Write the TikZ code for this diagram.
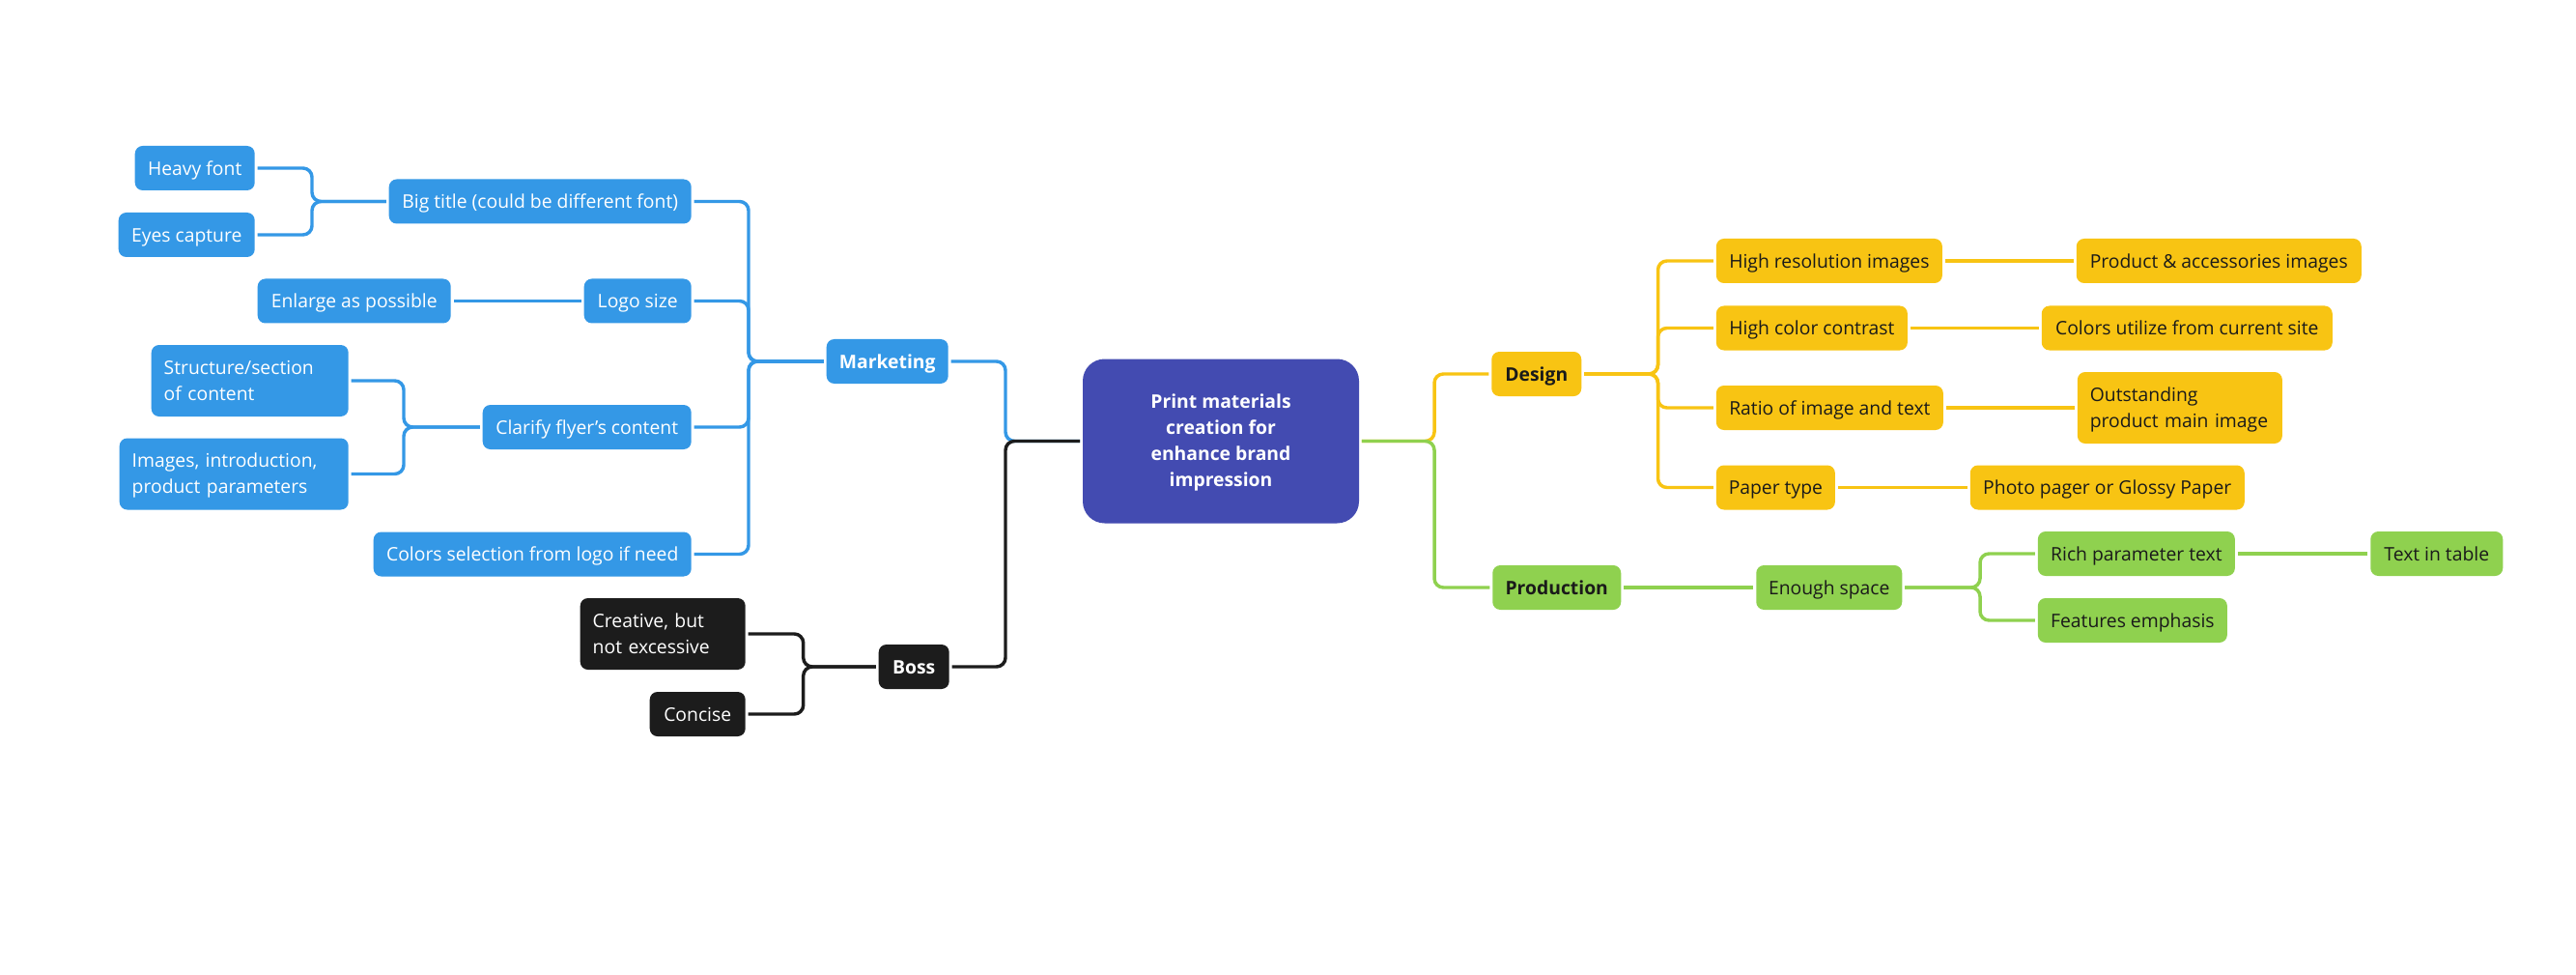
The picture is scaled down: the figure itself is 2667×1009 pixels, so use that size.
\documentclass[tikz,border=0pt]{standalone}
\usepackage{fontspec}
\setmainfont{Open Sans}
\definecolor{mblue}{HTML}{3498E6}
\definecolor{mind}{HTML}{434BB1}
\definecolor{mblack}{HTML}{1C1C1C}
\definecolor{myel}{HTML}{F8C413}
\definecolor{mgreen}{HTML}{8FD14F}
\definecolor{mtext}{HTML}{1A1A1A}
\newcommand{\firstln}{\rule{0pt}{13.85pt}}
\newcommand{\lastln}{\rule[-3.5pt]{0pt}{0pt}}
\begin{document}
\begin{tikzpicture}[x=0.75pt,y=-0.75pt,
  box/.style={rounded corners=6pt, inner xsep=0pt, inner ysep=0pt, minimum height=34.5pt,
    text height=12.5pt, text depth=1.5pt, font=\fontsize{14.5}{20.25}\selectfont},
  mbox/.style={rounded corners=6pt, inner xsep=9.75pt, inner ysep=0pt, minimum height=55.5pt,
    align=left, font=\fontsize{14.5}{20.25}\selectfont},
  bl/.style={fill=mblue,text=white},
  bk/.style={fill=mblack,text=white},
  yl/.style={fill=myel,text=mtext},
  gr/.style={fill=mgreen,text=mtext},
  con/.style={line width=2.6pt, rounded corners=7pt, shorten <=2pt, shorten >=2pt},
]
\fill[white] (0,0) rectangle (2667,1009);
\useasboundingbox (0,0) rectangle (2667,1009);

% center
\node[rounded corners=17pt, fill=mind, text=white, minimum width=214.5pt, minimum height=127.5pt,
  inner sep=0pt, align=center, font=\fontsize{14.5}{20.25}\selectfont\bfseries] (center) at (1264,456.5)
  {\firstln Print materials\\creation for\\enhance brand\\impression\lastln};

% marketing (blue)
\node[box,bl,minimum width=94.5pt,font=\fontsize{14.5}{20.25}\selectfont\bfseries,anchor=east] (marketing) at (982,374) {Marketing};
\node[box,bl,minimum width=234.75pt,anchor=east] (big) at (716,208.5) {Big title (could be different font)};
\node[box,bl,minimum width=83.25pt,anchor=east] (logo) at (716,311.5) {Logo size};
\node[box,bl,minimum width=162pt,anchor=east] (clarify) at (716,442) {Clarify flyer's content};
\node[box,bl,minimum width=246.75pt,anchor=east] (colors) at (716,573.5) {Colors selection from logo if need};
\node[box,bl,minimum width=93pt,anchor=east] (heavy) at (264,174) {Heavy font};
\node[box,bl,minimum width=105.75pt,anchor=east] (eyes) at (264,243) {Eyes capture};
\node[box,bl,minimum width=150pt,anchor=east] (enlarge) at (467,311.5) {Enlarge as possible};
\node[mbox,bl,text width=133.5pt,anchor=east] (struct) at (361,394) {\firstln Structure/section\\of content\lastln};
\node[mbox,bl,text width=158.25pt,anchor=east] (images) at (361,490.5) {\firstln Images, introduction,\\product parameters\lastln};

% boss (black)
\node[box,bk,minimum width=54.75pt,font=\fontsize{14.5}{20.25}\selectfont\bfseries,anchor=east] (boss) at (983,690) {Boss};
\node[mbox,bk,text width=108.75pt,anchor=east] (creative) at (772,656) {\firstln Creative, but\\not excessive\lastln};
\node[box,bk,minimum width=74.25pt,anchor=east] (concise) at (772,739) {Concise};

% design (yellow)
\node[box,yl,minimum width=69.75pt,font=\fontsize{14.5}{20.25}\selectfont\bfseries,anchor=west] (design) at (1544,387) {Design};
\node[box,yl,minimum width=175.5pt,anchor=west] (hires) at (1776.6,270) {High resolution images};
\node[box,yl,minimum width=148.5pt,anchor=west] (hicol) at (1776.6,339.5) {High color contrast};
\node[box,yl,minimum width=176.25pt,anchor=west] (ratio) at (1776.6,422) {Ratio of image and text};
\node[box,yl,minimum width=92.25pt,anchor=west] (paper) at (1776.6,504.5) {Paper type};
\node[box,yl,minimum width=221.25pt,anchor=west] (prodimg) at (2149.5,270) {Product \& accessories images};
\node[box,yl,minimum width=225.75pt,anchor=west] (colutil) at (2113.5,339.5) {Colors utilize from current site};
\node[mbox,yl,text width=139.5pt,anchor=west] (outst) at (2150.6,422) {\firstln Outstanding\\product main image\lastln};
\node[box,yl,minimum width=213pt,anchor=west] (photo) at (2039.5,504.5) {Photo pager or Glossy Paper};

% production (green)
\node[box,gr,minimum width=99.75pt,font=\fontsize{14.5}{20.25}\selectfont\bfseries,anchor=west] (production) at (1545,608) {Production};
\node[box,gr,minimum width=113.25pt,anchor=west] (enough) at (1818,608) {Enough space};
\node[box,gr,minimum width=153pt,anchor=west] (rich) at (2109.6,573) {Rich parameter text};
\node[box,gr,minimum width=147pt,anchor=west] (features) at (2109.6,642) {Features emphasis};
\node[box,gr,minimum width=102.75pt,anchor=west] (table) at (2454,573) {Text in table};

% junction coordinates
\coordinate (jl) at (1041,456.5);
\coordinate (jr) at (1485,456.5);
\coordinate (jm) at (775,374);
\coordinate (jb) at (323,208.5);
\coordinate (jc) at (418,442);
\coordinate (jboss) at (831.7,690);
\coordinate (jd) at (1716.5,387);
\coordinate (je) at (2050,608);

% connectors left
\draw[con,mblue] (center.west) -- (jl) |- (marketing.east);
\draw[con,mblack] (center.west) -- (jl) |- (boss.east);
\draw[con,mblue] (marketing.west) -- (jm) |- (big.east);
\draw[con,mblue] (marketing.west) -- (jm) |- (logo.east);
\draw[con,mblue] (marketing.west) -- (jm) |- (clarify.east);
\draw[con,mblue] (marketing.west) -- (jm) |- (colors.east);
\draw[con,mblue] (big.west) -- (jb) |- (heavy.east);
\draw[con,mblue] (big.west) -- (jb) |- (eyes.east);
\draw[con,mblue] (logo.west) -- (enlarge.east);
\draw[con,mblue] (clarify.west) -- (jc) |- (struct.east);
\draw[con,mblue] (clarify.west) -- (jc) |- (images.east);
\draw[con,mblack] (boss.west) -- (jboss) |- (creative.east);
\draw[con,mblack] (boss.west) -- (jboss) |- (concise.east);

% connectors right
\draw[con,myel] (center.east) -- (jr) |- (design.west);
\draw[con,mgreen] (center.east) -- (jr) |- (production.west);
\draw[con,myel] (design.east) -- (jd) |- (hires.west);
\draw[con,myel] (design.east) -- (jd) |- (hicol.west);
\draw[con,myel] (design.east) -- (jd) |- (ratio.west);
\draw[con,myel] (design.east) -- (jd) |- (paper.west);
\draw[con,myel] (hires.east) -- (prodimg.west);
\draw[con,myel] (hicol.east) -- (colutil.west);
\draw[con,myel] (ratio.east) -- (outst.west);
\draw[con,myel] (paper.east) -- (photo.west);
\draw[con,mgreen] (production.east) -- (enough.west);
\draw[con,mgreen] (enough.east) -- (je) |- (rich.west);
\draw[con,mgreen] (enough.east) -- (je) |- (features.west);
\draw[con,mgreen] (rich.east) -- (table.west);
\end{tikzpicture}
\end{document}
